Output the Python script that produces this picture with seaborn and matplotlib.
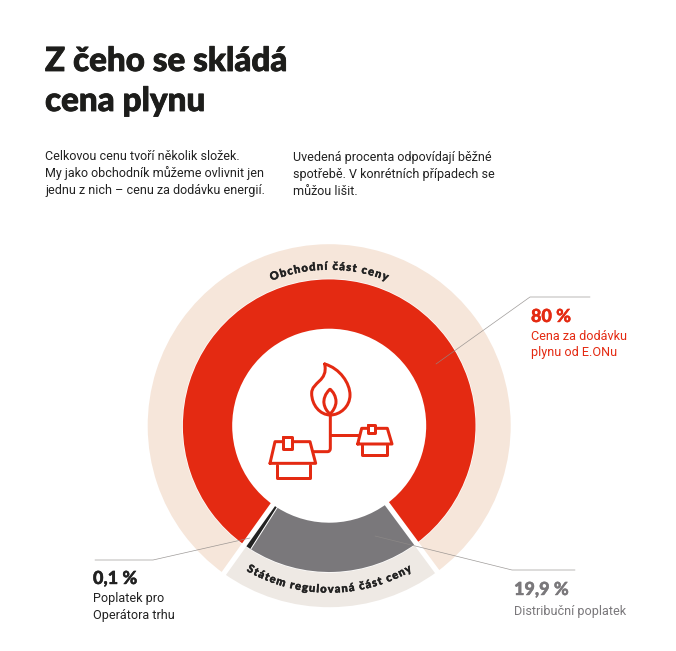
import numpy as np
import matplotlib
matplotlib.use("Agg")
import matplotlib.pyplot as plt
import matplotlib.patheffects as pe
from matplotlib.path import Path
from matplotlib.patches import PathPatch
from matplotlib.textpath import TextPath
from matplotlib.font_manager import FontProperties
import seaborn as sns

# ---------- data ----------
segment_labels = ["Cena za dodávku plynu od E.ONu", "Distribuční poplatek", "Poplatek pro Operátora trhu"]
segment_shares = [80.0, 19.9, 0.1]
group_labels = ["Obchodní část ceny", "Státem regulovaná část ceny"]
group_shares = [80.0, 20.0]
label_percent = ["80 %", "19,9 %", "0,1 %"]

RED, DARK, GREY, BEIGE, STONE = "#E42A12", "#222222", "#7A787B", "#F6E6DA", "#EEE9E4"
segment_colors = sns.color_palette([RED, GREY, DARK])
group_colors = sns.color_palette([BEIGE, STONE])

sns.set_theme(style="white")
plt.rcParams["font.family"] = ["Roboto", "DejaVu Sans"]

W, H = 676, 651
CX, CY = 329.2, 425.7
MIN_VISIBLE = 0.85   # the thinnest slice is drawn at this share so it stays visible
START = 234.5


def X(px):
    return px - CX


def Y(py):
    return CY - py


fig = plt.figure(figsize=(W / 100, H / 100), dpi=100, facecolor="white")
ax = fig.add_axes([0, 0, 1, 1])
PX = 72 / 100  # points per pixel

# ---------- rings ----------
shown = np.array(segment_shares, float)
extra = max(MIN_VISIBLE - shown[2], 0)
shown[2] += extra
shown[1] -= extra

ax.pie(group_shares, colors=group_colors, radius=181.5, startangle=START, counterclock=False,
       wedgeprops=dict(width=181.5 - 147, linewidth=0))
ax.pie(shown, colors=segment_colors, radius=146.3, startangle=START, counterclock=False,
       wedgeprops=dict(width=146.3 - 97, linewidth=0))
ax.set_xlim(X(0), X(W))
ax.set_ylim(Y(H), Y(0))
ax.set_aspect("equal")
ax.axis("off")

# separators at the slice boundaries, following the data
bounds = START - np.cumsum(shown) * 3.6
for ang, wd in [(START, 5.2), (bounds[0], 5.2), (bounds[1], 1.0)]:
    a = np.deg2rad(ang)
    r0, r1 = (90, 190) if wd > 2 else (90, 146.3)
    ax.plot([r0 * np.cos(a), r1 * np.cos(a)], [r0 * np.sin(a), r1 * np.sin(a)], color="white",
            lw=wd * PX, solid_capstyle="butt", zorder=5)


# ---------- curved labels ----------
def arc_text(s, r, size, top=True, tracking=1.2):
    fp = FontProperties(family="Lato", weight="black", size=size)
    advs = []
    for i in range(len(s)):
        a = TextPath((0, 0), s[:i + 1] + "|", prop=fp).get_extents().x1 - \
            TextPath((0, 0), s[:i] + "|", prop=fp).get_extents().x1
        advs.append(a * 100 / 72 + tracking)
    advs = np.array(advs)
    mid = np.cumsum(advs) - advs / 2 - advs.sum() / 2
    for ch, m in zip(s, mid):
        th = m / r
        if top:
            x, y, rot = r * np.sin(th), r * np.cos(th), -np.degrees(th)
        else:
            x, y, rot = r * np.sin(th), -r * np.cos(th), np.degrees(th)
        t = ax.text(x, y, ch, rotation=rot, rotation_mode="anchor", ha="center", va="baseline",
                    fontproperties=fp, color=DARK, zorder=6)
        t.set_path_effects([pe.withStroke(linewidth=0.3, foreground=DARK)])


arc_text(group_labels[0], 156, 8.0, True)
arc_text(group_labels[1], 167, 8.0, False)


# ---------- leaders ----------
def leader(pts):
    xs, ys = zip(*pts)
    ax.plot([X(v) for v in xs], [Y(v) for v in ys], color="#8E8A88", lw=0.5, alpha=0.85, zorder=7)


leader([(436, 364), (530, 297), (590, 297)])
leader([(375, 536), (512, 570), (575, 570)])
leader([(250, 538), (153, 560), (95, 560)])


# ---------- icon (pixel coordinates of the pictogram) ----------
def zx(v):
    return X(250 + v / 3)


def zy(v):
    return Y(350 + v / 3)


def stroke(verts, codes=None, face="none", z=8):
    v = [(zx(a), zy(b)) for a, b in verts]
    ax.add_patch(PathPatch(Path(v, codes), fc=face, ec=RED, lw=3.0 * PX, joinstyle="round",
                           capstyle="round", zorder=z))


M, L, C = Path.MOVETO, Path.LINETO, Path.CURVE4
Q = Path.CURVE3
stroke([(224, 42), (270, 55), (300, 100), (300, 135), (300, 170), (270, 195), (241, 195),
        (210, 195), (185, 165), (185, 130), (185, 95), (235, 95), (224, 42)],
       [M] + [C] * 12)
stroke([(240, 118), (225, 130), (220, 150), (222, 160), (224, 175), (232, 185), (240, 192),
        (248, 185), (258, 170), (258, 155), (258, 140), (250, 125), (240, 118)],
       [M] + [C] * 12)
stroke([(241, 195), (241, 295), (241, 305), (232, 305), (190, 305)], [M, L, Q, Q, L])
stroke([(241, 255), (325, 255)])
# left house
stroke([(82, 345), (82, 385), (180, 385), (180, 345)])
stroke([(60, 340), (75, 275), (180, 275), (197, 340), (60, 340)])
stroke([(100, 262), (127, 262), (127, 298), (100, 298), (100, 262)], face="white", z=9)
# right house
stroke([(336, 285), (336, 316), (410, 316), (410, 285)])
stroke([(323, 282), (335, 235), (412, 235), (426, 282), (323, 282)])
stroke([(353, 224), (375, 224), (375, 250), (353, 250), (353, 224)], face="white", z=9)


# ---------- text ----------
def T(x, y, s, size, color=DARK, weight="normal", family="Roboto", bold=0.0):
    t = ax.text(X(x), Y(y), s, fontsize=size * PX, color=color, fontweight=weight, ha="left",
                va="baseline", zorder=10, family=[family, "DejaVu Sans"])
    if bold:
        t.set_path_effects([pe.withStroke(linewidth=bold, foreground=color)])


T(45, 71, "Z čeho se skládá", 33.2, "#1D1D1B", "black", "Lato", 0.6)
T(45, 111, "cena plynu", 33.2, "#1D1D1B", "black", "Lato", 0.6)
for y, s in zip([160, 177, 194], ["Celkovou cenu tvoří několik složek.",
                                  "My jako obchodník můžeme ovlivnit jen",
                                  "jednu z nich – cenu za dodávku energií."]):
    T(45, y, s, 12.55)
for y, s in zip([161, 178, 195], ["Uvedená procenta odpovídají běžné",
                                  "spotřebě. V konrétních případech se",
                                  "můžou lišit."]):
    T(293, y, s, 12.55)

T(531, 322, label_percent[0], 18, RED, "black", "Lato", 0.3)
T(531, 340, "Cena za dodávku", 12.6, RED)
T(531, 356, "plynu od E.ONu", 12.6, RED)
T(93, 584, label_percent[2], 18, DARK, "black", "Lato", 0.3)
T(93, 602, "Poplatek pro", 12.6, DARK)
T(93, 619, "Operátora trhu", 12.6, DARK)
T(514, 595, label_percent[1], 18, GREY, "black", "Lato", 0.3)
T(514, 615, segment_labels[1], 12.6, GREY)

fig.savefig("out.png", dpi=100, facecolor="white")
